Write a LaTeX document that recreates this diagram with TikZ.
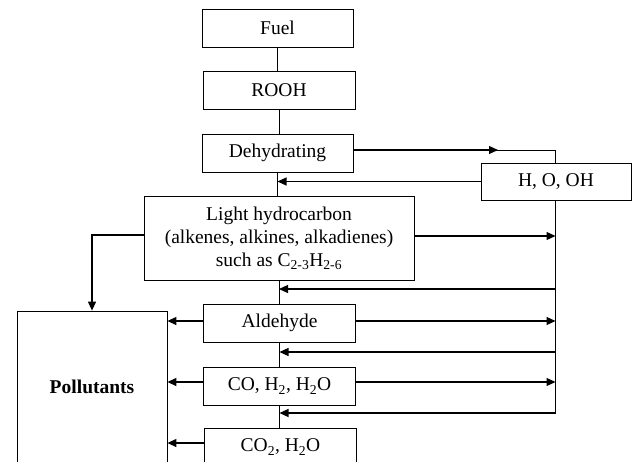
\documentclass[tikz,border=0pt]{standalone}
\usepackage{fontspec}
\setmainfont{Liberation Serif}
\usetikzlibrary{arrows.meta}
\begin{document}
\begin{tikzpicture}[x=1pt,y=-1pt,
  box/.style={draw,line width=0.8pt,inner sep=0pt,align=center,font=\fontsize{19.5}{23}\selectfont},
  arr/.style={-{Triangle[length=9pt,width=8pt]},line width=1.2pt},
  ln/.style={line width=0.8pt}]
\useasboundingbox (0,0) rectangle (632,461);
\clip (0,0) rectangle (632,461);
% boxes
\node[box,minimum width=151pt,minimum height=38pt] (fuel) at (277.5,28) {Fuel};
\node[box,minimum width=152pt,minimum height=38pt] (rooh) at (279,90) {ROOH};
\node[box,minimum width=151pt,minimum height=38pt] (dehyd) at (277.5,153) {Dehydrating};
\node[box,minimum width=150pt,minimum height=37pt] (hooh) at (556,181.5) {H, O, OH};
\node[box,minimum width=270pt,minimum height=84pt] (lh) at (279,238) {Light hydrocarbon\\(alkenes, alkines, alkadienes)\\such as C\textsubscript{2-3}H\textsubscript{2-6}};
\node[box,minimum width=152pt,minimum height=38pt] (ald) at (279.5,323) {Aldehyde};
\node[box,minimum width=152pt,minimum height=38pt] (co) at (279.5,386) {CO, H\textsubscript{2}, H\textsubscript{2}O};
\node[box,minimum width=152pt,minimum height=38pt] (co2) at (280.5,447) {CO\textsubscript{2}, H\textsubscript{2}O};
\node[box,minimum width=150pt,minimum height=152pt,font=\fontsize{19.5}{23}\selectfont\bfseries] (pol) at (92,387) {Pollutants};
% junction coordinates on the right return line
\coordinate (rtop) at (555.5,150);
\coordinate (rbot) at (555.5,413);
% main chain
\draw[ln] (fuel.south) -- (fuel.south |- rooh.north);
\draw[ln] (rooh.south) -- (rooh.south |- dehyd.north);
\draw[ln] (dehyd.south) -- (dehyd.south |- lh.north);
\draw[ln] (lh.south) -- (lh.south |- ald.north);
\draw[ln] (ald.south) -- (ald.south |- co.north);
\draw[ln] (co.south) -- (co.south |- co2.north);
% dehydrating to H,O,OH
\draw[arr] ([yshift=3pt]dehyd.east) -- (498,150);
\draw[ln] (495,150) -- (rtop) -- (hooh.north -| rtop);
\draw[arr] (hooh.west) -- (dehyd.south |- hooh.west);
% right vertical return line
\draw[ln] (hooh.south -| rtop) -- (rbot);
% light hydrocarbon
\draw[arr] ([yshift=2pt]lh.east) -- ([yshift=2pt]lh.east -| rtop);
\draw[arr] (rtop |- 0,289) -- (lh.south |- 0,289);
\draw[arr] ([yshift=3pt]lh.west) -| (pol.north);
% aldehyde
\draw[arr] ([yshift=2pt]ald.west) -- ([yshift=2pt]ald.west -| pol.east);
\draw[arr] ([yshift=2pt]ald.east) -- ([yshift=2pt]ald.east -| rtop);
\draw[arr] (rtop |- 0,352) -- (ald.south |- 0,352);
% CO, H2, H2O
\draw[arr] ([yshift=4pt]co.west) -- ([yshift=4pt]co.west -| pol.east);
\draw[arr] ([yshift=4pt]co.east) -- ([yshift=4pt]co.east -| rtop);
\draw[arr] (rbot) -- (co.south |- rbot);
% CO2, H2O
\draw[arr] ([yshift=4pt]co2.west) -- ([yshift=4pt]co2.west -| pol.east);
\end{tikzpicture}
\end{document}
